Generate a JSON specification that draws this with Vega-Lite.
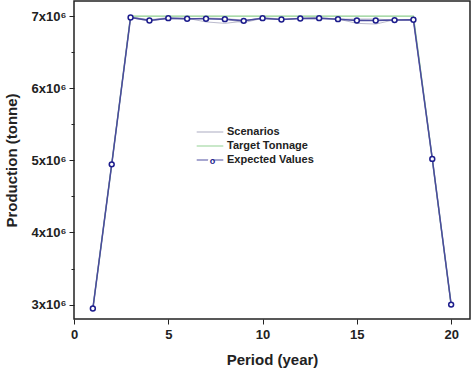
{
  "$schema": "https://vega.github.io/schema/vega-lite/v6.json",
  "width": 396,
  "height": 318,
  "autosize": {"type": "none"},
  "padding": {"left": 74, "top": 1, "right": 4, "bottom": 50},
  "background": "white",
  "config": {
    "view": {"stroke": "#222", "strokeWidth": 1.5},
    "font": "Liberation Sans",
    "axis": {"labelFont": "Liberation Sans", "titleFont": "Liberation Sans", "labelFontWeight": "bold", "titleFontWeight": "bold", "labelColor": "#222", "titleColor": "#222", "domainColor": "#222", "tickColor": "#222", "grid": false}
  },
  "datasets": {
    "scen": [
      {"run": "a", "period": 1, "value": 2945000}, {"run": "a", "period": 2, "value": 4945000}, {"run": "a", "period": 3, "value": 6990000}, {"run": "a", "period": 4, "value": 6950000}, {"run": "a", "period": 5, "value": 6980000}, {"run": "a", "period": 6, "value": 6970000}, {"run": "a", "period": 7, "value": 6920000}, {"run": "a", "period": 8, "value": 6900000}, {"run": "a", "period": 9, "value": 6930000}, {"run": "a", "period": 10, "value": 6980000}, {"run": "a", "period": 11, "value": 6960000}, {"run": "a", "period": 12, "value": 6970000}, {"run": "a", "period": 13, "value": 6980000}, {"run": "a", "period": 14, "value": 6960000}, {"run": "a", "period": 15, "value": 6900000}, {"run": "a", "period": 16, "value": 6890000}, {"run": "a", "period": 17, "value": 6950000}, {"run": "a", "period": 18, "value": 6950000}, {"run": "a", "period": 19, "value": 5000000}, {"run": "a", "period": 20, "value": 2990000},
      {"run": "b", "period": 1, "value": 2945000}, {"run": "b", "period": 2, "value": 4950000}, {"run": "b", "period": 3, "value": 6980000}, {"run": "b", "period": 4, "value": 6930000}, {"run": "b", "period": 5, "value": 6970000}, {"run": "b", "period": 6, "value": 6960000}, {"run": "b", "period": 7, "value": 6970000}, {"run": "b", "period": 8, "value": 6960000}, {"run": "b", "period": 9, "value": 6910000}, {"run": "b", "period": 10, "value": 6970000}, {"run": "b", "period": 11, "value": 6950000}, {"run": "b", "period": 12, "value": 6970000}, {"run": "b", "period": 13, "value": 6970000}, {"run": "b", "period": 14, "value": 6960000}, {"run": "b", "period": 15, "value": 6950000}, {"run": "b", "period": 16, "value": 6940000}, {"run": "b", "period": 17, "value": 6940000}, {"run": "b", "period": 18, "value": 6950000}, {"run": "b", "period": 19, "value": 5040000}, {"run": "b", "period": 20, "value": 3000000},
      {"run": "c", "period": 1, "value": 2945000}, {"run": "c", "period": 2, "value": 4940000}, {"run": "c", "period": 3, "value": 6985000}, {"run": "c", "period": 4, "value": 6945000}, {"run": "c", "period": 5, "value": 6965000}, {"run": "c", "period": 6, "value": 6960000}, {"run": "c", "period": 7, "value": 6975000}, {"run": "c", "period": 8, "value": 6965000}, {"run": "c", "period": 9, "value": 6945000}, {"run": "c", "period": 10, "value": 6965000}, {"run": "c", "period": 11, "value": 6950000}, {"run": "c", "period": 12, "value": 6965000}, {"run": "c", "period": 13, "value": 6965000}, {"run": "c", "period": 14, "value": 6955000}, {"run": "c", "period": 15, "value": 6960000}, {"run": "c", "period": 16, "value": 6960000}, {"run": "c", "period": 17, "value": 6945000}, {"run": "c", "period": 18, "value": 6950000}, {"run": "c", "period": 19, "value": 5020000}, {"run": "c", "period": 20, "value": 3000000}
    ],
    "target": [
      {"period": 1, "value": 2945000}, {"period": 2, "value": 4945000}, {"period": 3, "value": 7000000}, {"period": 18, "value": 7000000}, {"period": 19, "value": 5020000}, {"period": 20, "value": 3000000}
    ],
    "expected": [
      {"period": 1, "value": 2945000}, {"period": 2, "value": 4945000}, {"period": 3, "value": 6982000}, {"period": 4, "value": 6940000}, {"period": 5, "value": 6972000}, {"period": 6, "value": 6963000}, {"period": 7, "value": 6963000}, {"period": 8, "value": 6958000}, {"period": 9, "value": 6935000}, {"period": 10, "value": 6972000}, {"period": 11, "value": 6954000}, {"period": 12, "value": 6968000}, {"period": 13, "value": 6972000}, {"period": 14, "value": 6958000}, {"period": 15, "value": 6940000}, {"period": 16, "value": 6940000}, {"period": 17, "value": 6945000}, {"period": 18, "value": 6949000}, {"period": 19, "value": 5020000}, {"period": 20, "value": 3000000}
    ]
  },
  "encoding": {
    "x": {"field": "period", "type": "quantitative", "scale": {"domain": [0, 21], "nice": false},
      "axis": {"title": "Period (year)", "values": [0, 5, 10, 15, 20], "tickSize": 5, "labelFlush": false, "labelFontSize": 13, "titleFontSize": 15, "labelPadding": 4, "titlePadding": 11, "domain": false}},
    "y": {"field": "value", "type": "quantitative", "scale": {"domain": [2800000, 7210000], "nice": false, "zero": false},
      "axis": {"title": "Production (tonne)", "values": [3000000, 3500000, 4000000, 4500000, 5000000, 5500000, 6000000, 6500000, 7000000],
        "labelExpr": "datum.value % 1000000 === 0 ? (datum.value / 1000000) + 'x10⁶' : ''",
        "tickSize": {"condition": {"test": "datum.value % 1000000 !== 0", "value": 3}, "value": 5},
        "labelFontSize": 13, "titleFontSize": 15, "labelPadding": 3, "titlePadding": 12, "domain": false}}
  },
  "layer": [
    {
      "data": {"name": "scen"},
      "mark": {"type": "line", "strokeWidth": 1, "opacity": 0.8},
      "encoding": {
        "detail": {"field": "run"},
        "color": {"datum": "Scenarios", "type": "nominal",
          "scale": {"domain": ["Scenarios", "Target Tonnage", "Expected Values"], "range": ["#a9a9c0", "#8fd08f", "#4a4a9e"]},
          "legend": {"title": null, "orient": "none", "legendX": 128, "legendY": 123, "padding": 0, "labelFontSize": 11, "labelFontWeight": "bold", "labelColor": "#222", "symbolSize": 196, "symbolStrokeWidth": 1.2, "rowPadding": 1, "labelOffset": 9, "symbolType": "M-1.9,0L1.9,0", "zindex": 1}}
      }
    },
    {
      "data": {"name": "target"},
      "mark": {"type": "line", "strokeWidth": 1.3},
      "encoding": {"color": {"datum": "Target Tonnage", "type": "nominal"}}
    },
    {
      "data": {"name": "expected"},
      "mark": {"type": "line", "strokeWidth": 1.5},
      "encoding": {"color": {"datum": "Expected Values", "type": "nominal"}}
    },
    {
      "data": {"name": "expected"},
      "mark": {"type": "point", "shape": "circle", "filled": true, "fill": "white", "fillOpacity": 1, "stroke": "#1c1c8c", "strokeWidth": 1.5, "strokeOpacity": 1, "size": 24, "opacity": 1},
      "encoding": {
        "shape": {"datum": "Expected Values", "type": "nominal", "scale": {"range": ["circle"]},
          "legend": {"title": null, "orient": "none", "legendX": 132, "legendY": 155, "padding": 0, "labelExpr": "'o'", "labelFont": "Liberation Sans", "labelFontWeight": "bold", "labelFontSize": 9, "labelColor": "#1c1c8c", "labelAlign": "center", "labelBaseline": "middle", "labelOffset": -2.55, "labelLimit": 50, "symbolSize": 26, "symbolFillColor": "white", "symbolStrokeColor": "#1c1c8c", "symbolStrokeWidth": 1.4, "symbolOpacity": 1, "zindex": 2}}
      }
    }
  ]
}
